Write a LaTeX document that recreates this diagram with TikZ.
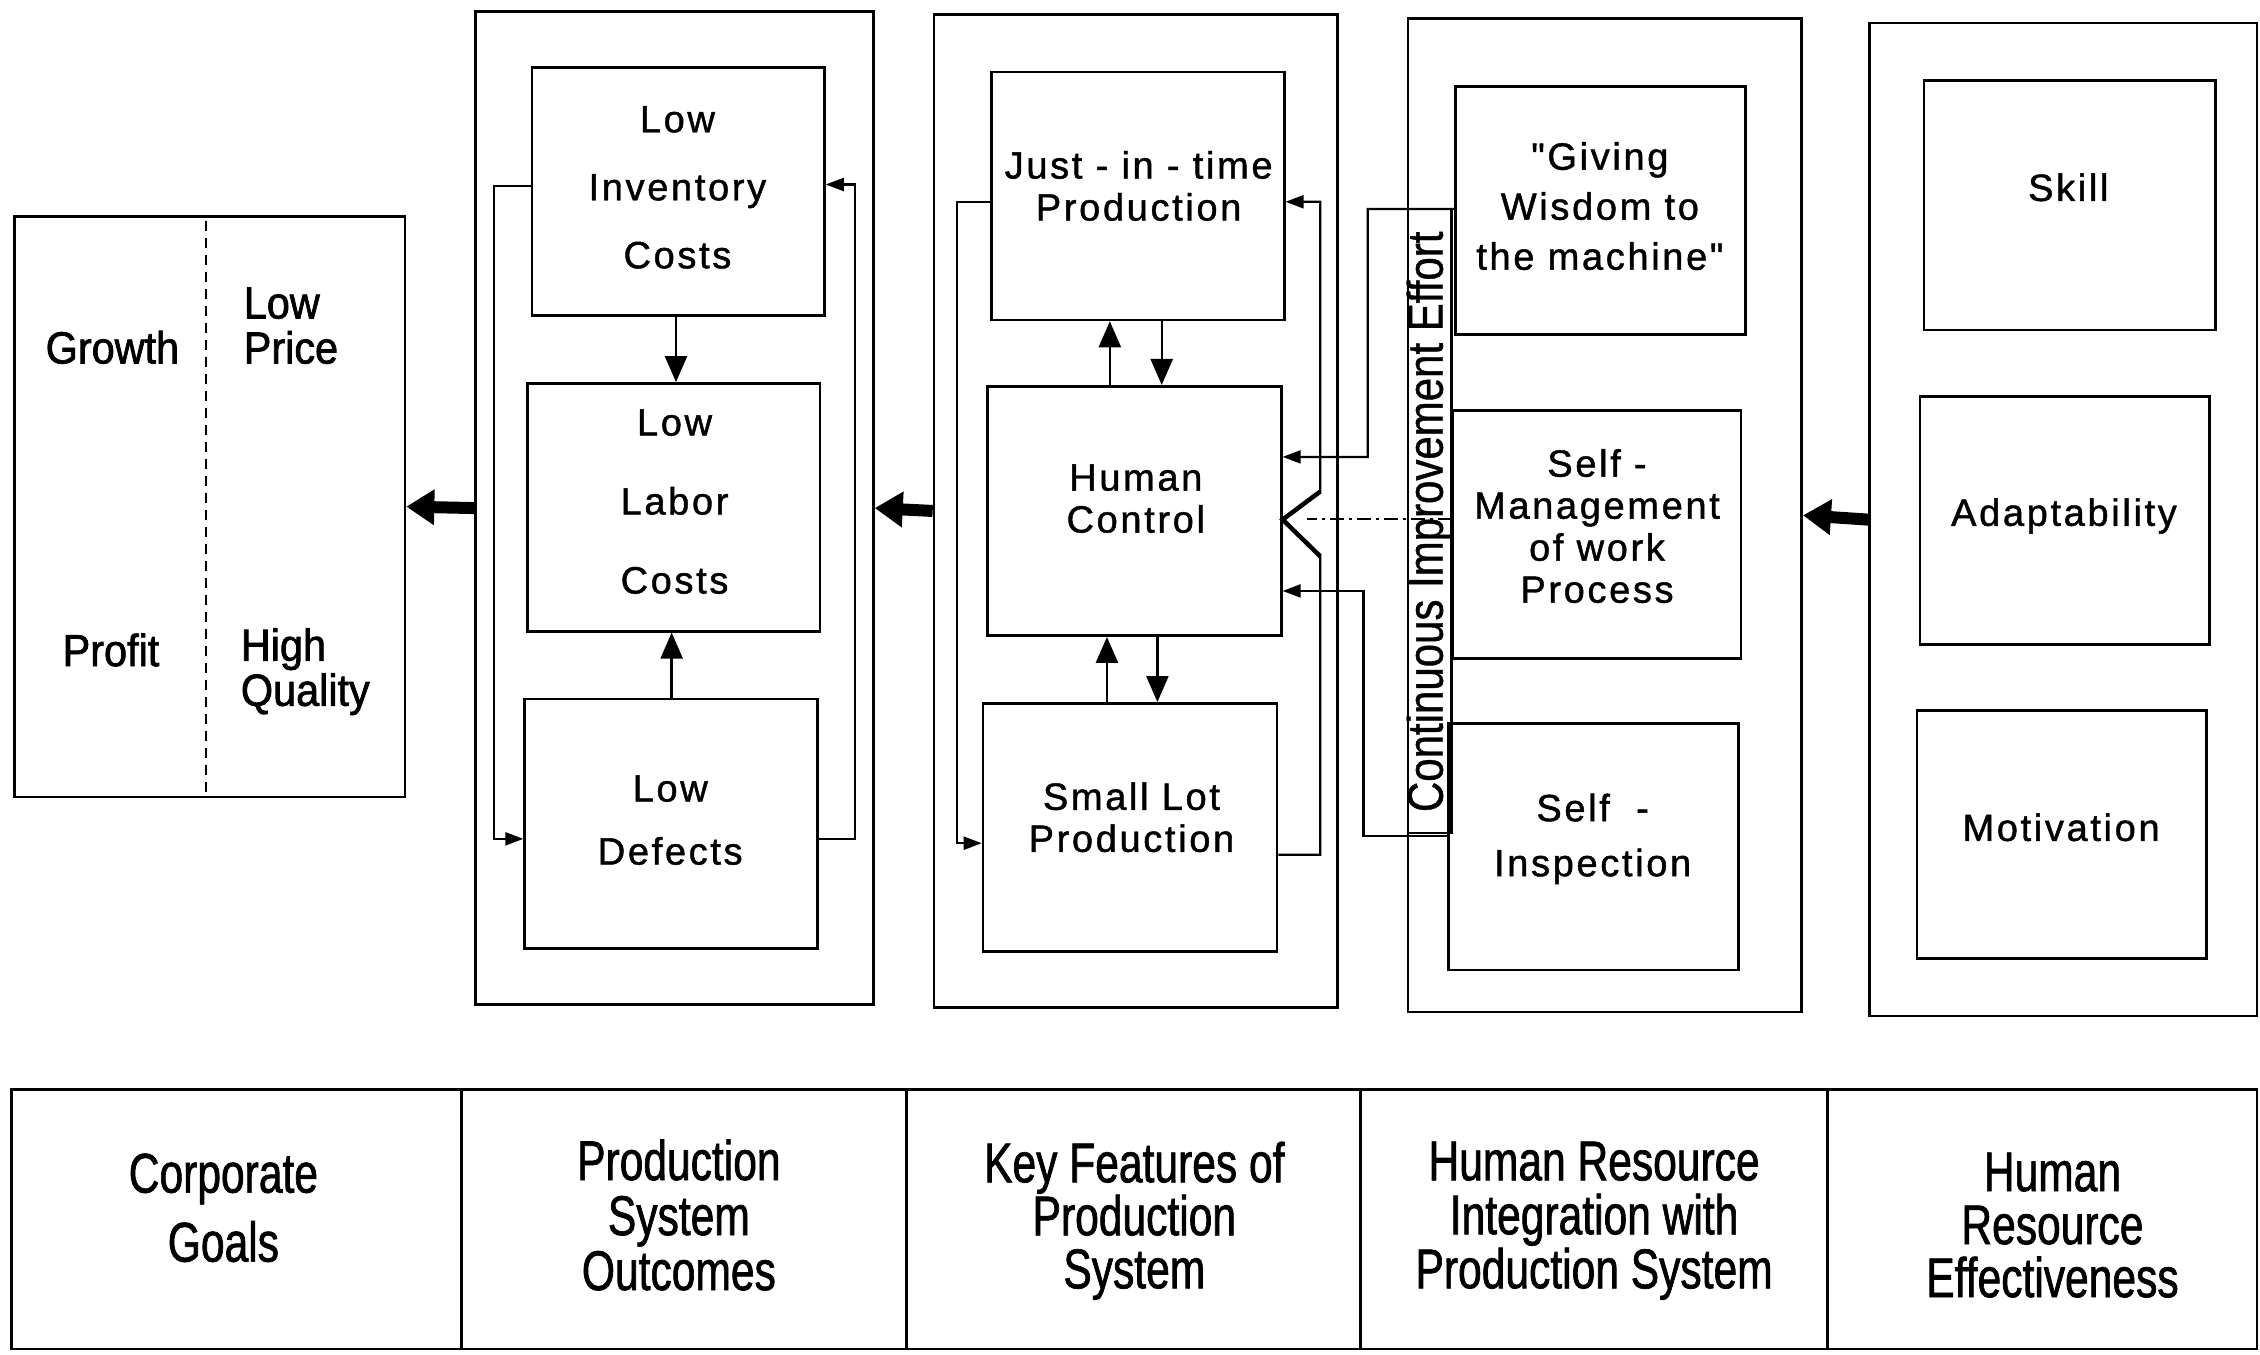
\documentclass[tikz,border=0pt]{standalone}
\usepackage{fontspec}
\setmainfont{Liberation Sans}
\newfontfamily\boxf[LetterSpace=7,FakeBold=1.2]{Liberation Sans}
\newfontfamily\goalf[FakeStretch=0.92,FakeBold=1.6]{Liberation Sans}
\newfontfamily\condf[FakeStretch=0.76,FakeBold=1.2]{Liberation Sans}
\newfontfamily\cief[FakeStretch=0.84,FakeBold=0.8]{Liberation Sans}
\usetikzlibrary{fit,calc,arrows.meta}
\tikzset{
  pbx/.style={draw, line width=2.6pt, inner sep=0pt},
  txt/.style={align=center, inner sep=0pt, font=\boxf\fontsize{38}{#1}\selectfont},
  gtxt/.style={inner sep=0pt, font=\goalf\fontsize{45}{#1}\selectfont},
  btxt/.style={align=center, font=\condf\fontsize{56}{#1}\selectfont},
  big/.style={line width=12pt, -{Triangle[length=28pt,width=34pt]}},
  arr/.style={line width=2.4pt, -{Triangle[length=26pt,width=22pt]}},
  farr/.style={line width=2.2pt, -{Triangle[length=18pt,width=13pt]}},
  fl/.style={line width=2.2pt},
}
\begin{document}
\begin{tikzpicture}[x=1.4413pt,y=-1.4413pt]
\useasboundingbox (0,0) rectangle (1568,940);

% ---------- Corporate goals ----------
\node[pbx, fit={(10,150) (281,553)}] (G) {};
\draw[line width=2.2pt, dash pattern=on 10pt off 7pt] (143,153) -- (143,550);
\node[gtxt=45] (Gg) at (78,241) {Growth};
\node[gtxt=45, align=left, anchor=west] (Gl) at (169,226) {Low\\Price};
\node[gtxt=45] (Gp) at (77,451) {Profit};
\node[gtxt=45, align=left, anchor=west] (Gh) at (167,466) {High\\Quality};

% ---------- Column 2 ----------
\node[pbx, fit={(330,8) (606,697)}] (C2) {};
\node[pbx, fit={(369,47) (572,219)}] (I1) {};
\node[pbx, fit={(366,266) (569,438)}] (I2) {};
\node[pbx, fit={(364,485) (567,658)}] (I3) {};
\node[txt=68] (I1t) at (470,130) {Low\\Inventory\\Costs};
\node[txt=79] (I2t) at (468,348) {Low\\Labor\\Costs};
\node[txt=63] (I3t) at (465,569) {Low\\Defects};
\coordinate (xa) at (469,0);
\coordinate (xb) at (466,0);
\draw[arr] (I1.south -| xa) -- (I2.north -| xa);
\draw[arr] (I3.north -| xb) -- (I2.south -| xb);
\draw[farr] ($(I1.west)+(0,-4)$) -| (343,582) -- ($(I3.west)+(0,10.5)$);
\draw[farr] ($(I3.east)+(0,10.5)$) -| (593,128) -- ($(I1.east)+(0,-5)$);

% ---------- Column 3 ----------
\node[pbx, fit={(648,10) (928,699)}] (C3) {};
\node[pbx, fit={(688,50) (891,222)}] (J) {};
\node[pbx, fit={(685,268) (889,441)}] (H) {};
\node[pbx, fit={(682,488) (886,660)}] (S) {};
\node[txt=42] (Jt) at (790,129) {Just - in - time\\Production};
\node[txt=42] (Ht) at (788,346) {Human\\Control};
\node[txt=42] (St) at (785,567) {Small Lot\\Production};
\coordinate (xc) at (770,0);
\coordinate (xd) at (806,0);
\coordinate (xe) at (768,0);
\coordinate (xf) at (803,0);
\draw[arr] (H.north -| xc) -- (J.south -| xc);
\draw[arr] (J.south -| xd) -- (H.north -| xd);
\draw[arr] (S.north -| xe) -- (H.south -| xe);
\draw[arr] (H.south -| xf) -- (S.north -| xf);
\draw[farr] ($(J.west)+(0,4)$) -| (664,585) -- ($(S.west)+(0,11)$);
\draw[farr] ($(S.east)+(0,19)$) -- (916,593) -- (916,386) -- ($(H.east)+(0,6)$) -- (916,341) -- (916,140) -- ($(J.east)+(0,4)$);
\draw[line width=4.5pt, line join=miter] (916,386) -- ($(H.east)+(0,6)$) -- (916,341);

% ---------- Column 4 ----------
\node[pbx, fit={(977,13) (1250,702)}] (C4) {};
\draw[fl] (977,578) -- (1007,578) -- (1007,145);
\node[pbx, fit={(1010,60) (1211,232)}] (GW) {};
\node[pbx, fit={(1008,285) (1208,457)}] (SM) {};
\node[pbx, fit={(1005,502) (1206,673)}] (SI) {};
\node[txt=50] (GWt) at (1110,143) {"Giving\\Wisdom to\\the machine"};
\node[txt=42] (SMt) at (1108,365) {Self -\\Management\\of work\\Process};
\node[txt=55] (SIt) at (1105,582) {Self \ -\\Inspection};
\draw[farr] ($(GW.west)+(0,-1)$) -| (949,317) -- ($(H.east)+(0,-37.5)$);
\draw[farr] ($(SI.west)+(0,-7.5)$) -| (946,410) -- ($(H.east)+(0,55.5)$);
\coordinate (Vt) at (907,360);
\draw[fl, dash pattern=on 14pt off 5pt on 3pt off 5pt] ($(SM.west)+(0,-11)$) -- (Vt);
\node[rotate=90, inner sep=0pt, font=\cief\fontsize{50}{50}\selectfont] (CIE) at (992,362) {Continuous Improvement Effort};

% ---------- Column 5 ----------
\node[pbx, fit={(1297,16) (1566,705)}] (C5) {};
\node[pbx, fit={(1335,56) (1537,229)}] (K1) {};
\node[pbx, fit={(1332,275) (1533,447)}] (K2) {};
\node[pbx, fit={(1330,493) (1531,665)}] (K3) {};
\node[txt=42] (K1t) at (1435,130) {Skill};
\node[txt=42] (K2t) at (1432,358) {Adaptability};
\node[txt=42] (K3t) at (1430,574) {Motivation};

% ---------- big arrows ----------
\draw[big] (C2.west) -- (G.east);
\draw[big] (C3.west) -- (C2.east);
\draw[big] (C5.west) -- (C4.east);

% ---------- bottom row ----------
\node[pbx, fit={(8,756) (320,936)}] (B1) {};
\node[pbx, fit={(320,756) (629,936)}] (B2) {};
\node[pbx, fit={(629,756) (944,936)}] (B3) {};
\node[pbx, fit={(944,756) (1268,936)}] (B4) {};
\node[pbx, fit={(1268,756) (1566,936)}] (B5) {};
\node[btxt=69] (B1t) at (155,838) {Corporate\\Goals};
\node[btxt=55] (B2t) at (471,843) {Production\\System\\Outcomes};
\node[btxt=53] (B3t) at (787,847) {Key Features of\\Production\\System};
\node[btxt=54] (B4t) at (1106,847) {Human Resource\\Integration with\\Production System};
\node[btxt=53] (B5t) at (1424,850) {Human\\Resource\\Effectiveness};
\end{tikzpicture}
\end{document}
